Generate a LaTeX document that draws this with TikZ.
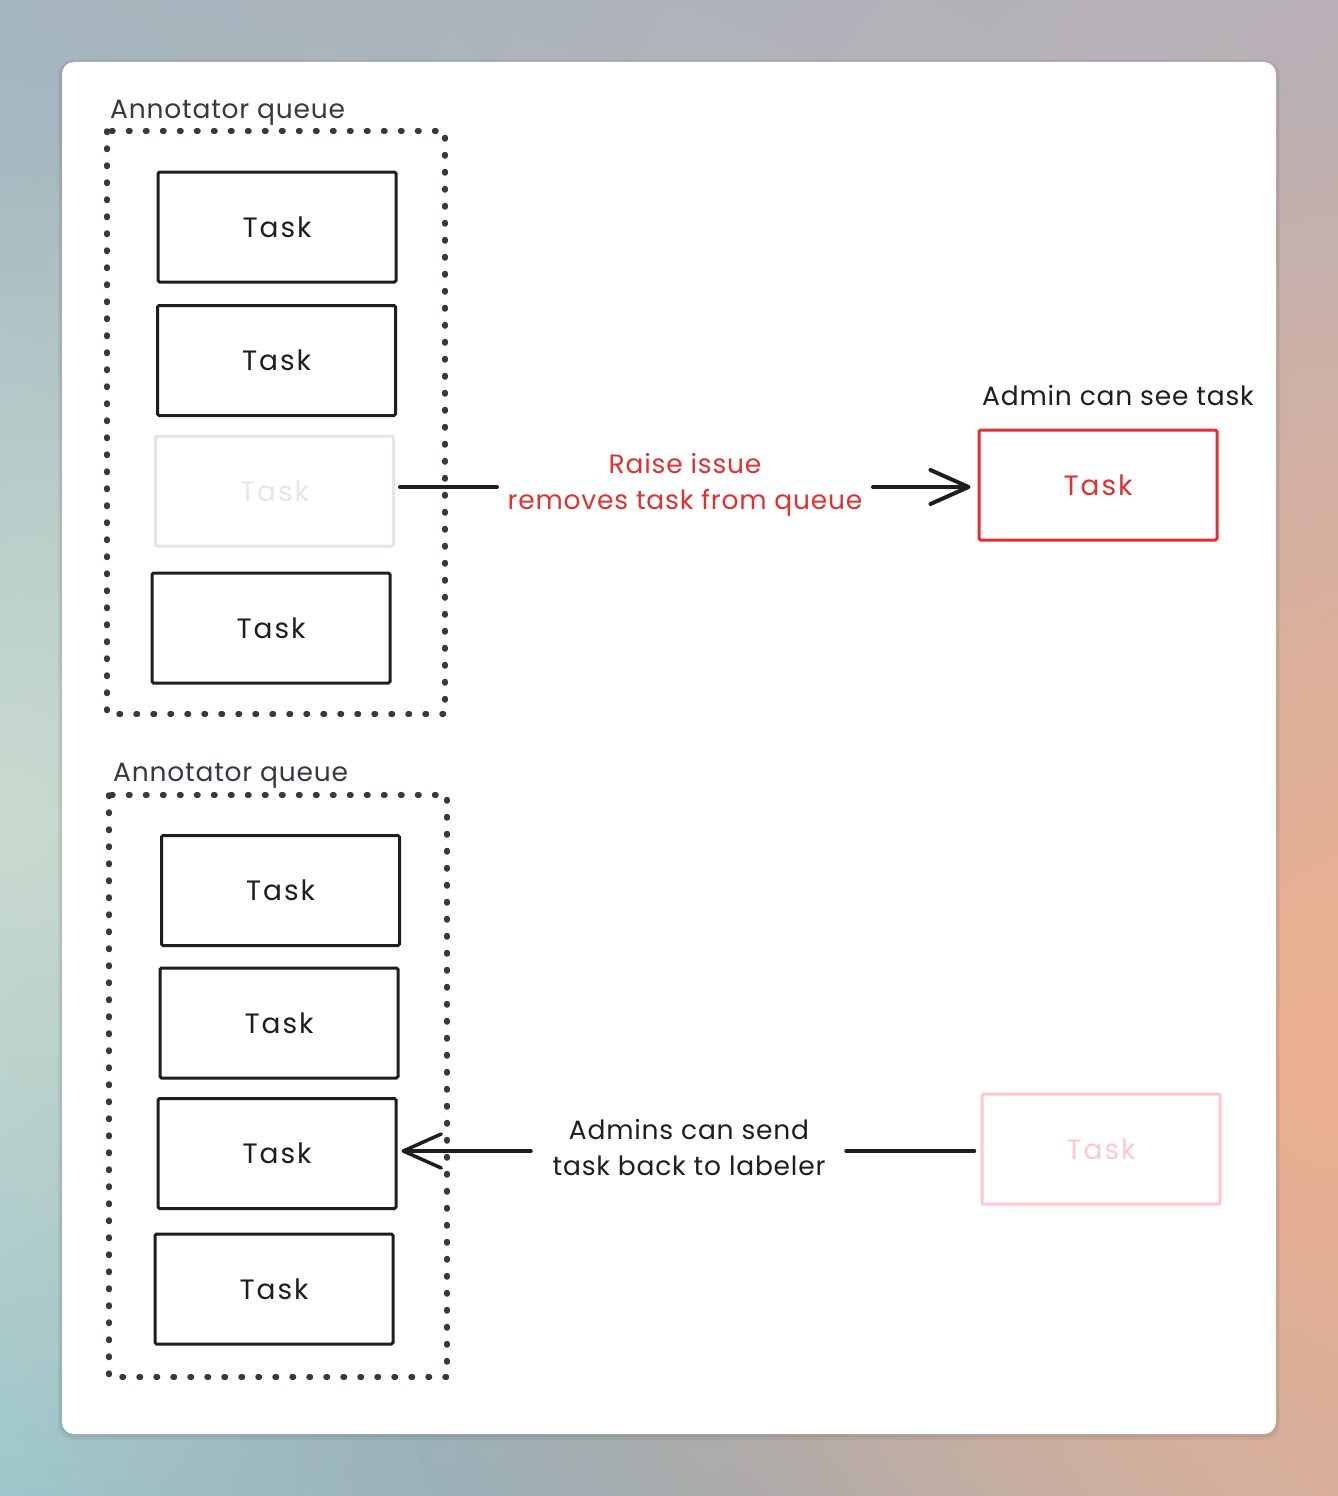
\documentclass[tikz,border=0pt]{standalone}
\usepackage{fontspec}
\setmainfont{Poppins}[LetterSpace=3]
\newfontfamily\taskfont{Poppins}[LetterSpace=7]
\usetikzlibrary{shadings,fadings,arrows.meta}
\definecolor{ink}{HTML}{1E1E1E}
\definecolor{dotc}{HTML}{343A40}
\definecolor{redc}{HTML}{E03131}
\definecolor{greyc}{HTML}{E3E7EB}
\definecolor{pinkc}{HTML}{FFC9C9}
\definecolor{bgUL}{HTML}{A5B5BE}
\definecolor{bgUR}{HTML}{B8B0B6}
\definecolor{bgLL}{HTML}{A3D3D4}
\definecolor{bgLR}{HTML}{D6B3A8}
\definecolor{glowO}{HTML}{EDB08F}
\definecolor{glowG}{HTML}{CADACF}
\definecolor{glowB}{HTML}{8DA6B4}
\tikzfading[name=myglow, inner color=transparent!0, outer color=transparent!100]
\tikzset{
  taskbox/.style={draw=ink, line width=3pt, minimum width=238pt, minimum height=110pt,
    rounded corners=1.5pt, inner sep=0pt, text=ink, font=\taskfont\fontsize{28}{30}\selectfont},
  queuebox/.style={draw=dotc, line width=5.5pt, line cap=round, dash pattern=on 1.5pt off 15.5pt},
  qlabel/.style={inner sep=0pt, text=dotc, font=\fontsize{26.5}{30}\selectfont},
  note/.style={inner sep=0pt, align=center, font=\fontsize{26.5}{36}\selectfont},
  conn/.style={draw=ink, line width=4pt, line cap=round},
  tip/.style={-{Straight Barb[length=38pt,width=34pt,round]}}
}
\begin{document}
\begin{tikzpicture}[x=1pt,y=-1pt]
\useasboundingbox (0,0) rectangle (1338,1496);
% background
\shade[upper left=bgUL, upper right=bgUR, lower left=bgLL, lower right=bgLR]
  (0,0) rectangle (1338,1496);
\begin{scope}
\clip (0,0) rectangle (1338,1496);
\fill[glowB, path fading=myglow, opacity=0.9] (720,1560) circle (1000);
\fill[glowO, path fading=myglow] (1338,1060) circle (1000);
\fill[glowG, path fading=myglow] (0,820) circle (700);
\end{scope}
% card
\fill[black, opacity=0.05, rounded corners=16pt] (58,60) rectangle (1280,1440);
\fill[black, opacity=0.05, rounded corners=14pt] (60,62) rectangle (1278,1437);
\fill[white, rounded corners=12pt] (62,62) rectangle (1276,1434);

% top queue
\node[qlabel, anchor=base west] (q1lbl) at (110,118) {Annotator queue};
\draw[queuebox] (107,131) rectangle (445,714);
\node[taskbox] (t1) at (277,227) {Task};
\node[taskbox] (t2) at (276.5,360.5) {Task};
\node[taskbox, draw=greyc, text=greyc] (t3) at (274.5,491) {Task};
\node[taskbox] (t4) at (271,628) {Task};

% admin
\node[inner sep=0pt, text=ink, font=\fontsize{26.5}{30}\selectfont, anchor=base west] (adm) at (982,405) {Admin can see task};
\node[taskbox, draw=redc, text=redc] (tr) at (1098,485) {Task};

% arrow 1
\node[note, text=redc] (l1) at (685,485) {Raise issue\\removes task from queue};
\coordinate (a1s) at (497,487);
\coordinate (a1e) at (873,487);
\draw[conn] ([xshift=5pt]t3.east |- a1s) -- (a1s);
\draw[conn, tip, shorten >=7pt] (a1e) -- (tr.west |- a1e);

% bottom queue
\node[qlabel, anchor=base west] (q2lbl) at (113,781) {Annotator queue};
\draw[queuebox] (109,795) rectangle (447,1377);
\node[taskbox] (b1) at (280.5,890.5) {Task};
\node[taskbox] (b2) at (279,1023) {Task};
\node[taskbox] (b3) at (277,1153.5) {Task};
\node[taskbox] (b4) at (274,1289) {Task};

\node[taskbox, draw=pinkc, text=pinkc] (tp) at (1101,1149) {Task};

% arrow 2
\node[note, text=ink] (l2) at (689,1148) {Admins can send\\task back to labeler};
\coordinate (a2s) at (846,1151);
\coordinate (a2e) at (531,1151);
\draw[conn, line width=3.5pt] (tp.west |- a2s) ++(-6pt,0) -- (a2s);
\draw[conn, line width=3.5pt, tip, shorten >=4pt] (a2e) -- (b3.east |- a2e);
\end{tikzpicture}
\end{document}
